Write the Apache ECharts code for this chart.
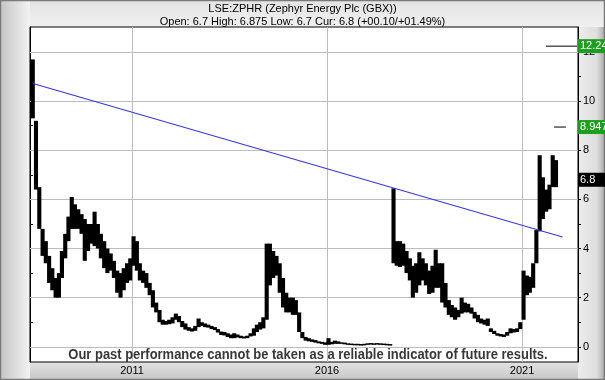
<!DOCTYPE html>
<html><head><meta charset="utf-8">
<script src="https://cdn.jsdelivr.net/npm/echarts@6/dist/echarts.min.js"></script>
<style>html,body{margin:0;padding:0;background:#d8d8d8}#c{width:605px;height:380px}</style>
</head><body><div id="c"></div><script>
// ---- data ----
const titleLine1 = 'LSE:ZPHR (Zephyr Energy Plc (GBX))';
const titleLine2 = 'Open: 6.7 High: 6.875 Low: 6.7 Cur: 6.8 (+00.10/+01.49%)';
const footerText = 'Our past performance cannot be taken as a reliable indicator of future results.';
const firstMonth = [2008, 6]; // monthly bars from June 2008
const lows = [9.3,6.4,4.8,3.7,3.4,2.6,2.3,2.0,2.0,2.8,3.6,
  4.3,4.8,4.8,4.8,4.6,3.5,3.9,4.2,4.1,4.0,
  3.6,3.2,3.0,3.1,2.8,2.2,2.0,2.3,2.6,2.7,
  3.3,3.1,2.7,2.6,2.4,2.1,1.6,1.4,1.0,0.9,
  0.9,0.92,0.95,1.1,1.0,0.8,0.7,0.65,0.62,0.65,
  0.8,0.85,0.8,0.78,0.72,0.68,0.58,0.48,0.46,0.4,
  0.35,0.35,0.38,0.35,0.34,0.35,0.42,0.45,0.6,0.7,
  0.75,1.1,2.5,2.8,2.9,2.2,1.6,1.4,1.4,1.3,
  1.3,0.6,0.35,0.25,0.22,0.2,0.17,0.14,0.12,0.08,
  0.08,0.1,0.12,0.12,0.12,0.1,0.08,0.07,0.07,0.07,
  0.06,0.07,0.08,0.09,0.09,0.09,0.08,0.07,0.06,0.06,
  3.4,3.3,3.25,3.3,3.0,2.7,2.0,2.2,2.5,2.7,
  2.5,2.15,2.2,2.4,2.4,1.8,1.6,1.3,1.2,1.1,
  1.2,1.35,1.4,1.4,1.35,1.15,1.0,0.95,0.9,0.85,
  0.6,0.52,0.45,0.42,0.4,0.45,0.55,0.58,0.6,0.72,
  1.1,2.1,2.2,2.4,3.4,4.7,5.2,5.5,5.6,6.5,6.5];
const highs = [11.7,9.2,6.5,4.8,4.3,3.7,3.2,2.8,3.0,3.9,4.6,
  5.3,6.1,5.8,5.6,5.4,5.2,5.0,5.0,5.5,5.0,
  4.6,4.3,4.0,3.8,3.5,3.1,3.0,3.2,3.4,3.6,
  4.5,4.3,3.4,3.1,3.0,2.6,2.3,1.8,1.5,1.1,
  1.05,1.1,1.2,1.35,1.25,1.05,0.95,0.8,0.75,0.85,
  1.15,1.0,0.95,0.9,0.85,0.8,0.72,0.62,0.6,0.55,
  0.5,0.55,0.5,0.45,0.42,0.45,0.55,0.75,0.9,1.0,
  1.2,4.2,4.2,3.9,3.7,3.4,2.8,2.2,2.0,2.0,
  1.9,1.4,0.6,0.4,0.35,0.3,0.27,0.22,0.2,0.18,
  0.35,0.2,0.25,0.22,0.18,0.17,0.14,0.13,0.12,0.12,
  0.11,0.12,0.14,0.15,0.14,0.15,0.14,0.13,0.12,0.11,
  6.45,4.3,4.3,4.2,3.9,3.6,3.3,3.4,3.85,3.6,
  3.4,3.1,3.3,3.95,3.4,3.4,2.6,1.9,1.7,1.6,
  1.5,2.0,1.8,1.75,1.6,1.42,1.3,1.15,1.1,1.15,
  0.75,0.65,0.55,0.52,0.5,0.6,0.75,0.72,0.75,1.0,
  3.1,2.9,2.85,3.4,4.75,7.8,6.9,6.4,6.6,7.8,7.6];
const trendLine = [['2008-06-17', 10.72], ['2022-01-15', 4.47]];
const targetValues = [12.24, 8.947];
const targetLabels = ['12.24', '8.947'];
const targetRanges = [['2021-08-13', '2022-05-30'], ['2021-10-27', '2022-02-16']];
const currentValue = 6.8;
const currentLabel = '6.8';
const yLabelValues = [0, 2, 4, 6, 8, 10, 12];
const yTickValues = [0,1,2,3,4,5,6,7,8,9,10,11,12];
const xLabelYears = [2011, 2016, 2021];
const xMin = '2008-05-20', xMax = '2022-06-09';
const yMin = -0.62, yMax = 13.02;

// ---- build ----
const ts = s => { const p = s.split('-').map(Number); return new Date(p[0], p[1] - 1, p[2]).getTime(); };
const bars = lows.map((lo, i) => {
  const y = firstMonth[0] + Math.floor((firstMonth[1] - 1 + i) / 12);
  const m = (firstMonth[1] - 1 + i) % 12;
  return [new Date(y, m, 15).getTime(), lo, highs[i]];
});
const xYearTs = xLabelYears.map(y => new Date(y, 0, 1).getTime());
const FONT = '"Liberation Sans", Arial, sans-serif';

const chart = echarts.init(document.getElementById('c'), null, {renderer: 'canvas'});
const option = {
  backgroundColor: 'transparent',
  animation: false,
  title: {
    text: titleLine1, subtext: titleLine2, left: 'center', top: -2, itemGap: 2,
    textStyle: {fontSize: 11, fontWeight: 'normal', color: '#000', fontFamily: FONT},
    subtextStyle: {fontSize: 11, color: '#000', fontFamily: FONT}
  },
  grid: {left: 30, right: 27, top: 27, bottom: 18, show: true, backgroundColor: '#fff', borderColor: '#000', borderWidth: 1},
  xAxis: {
    type: 'value', min: ts(xMin), max: ts(xMax),
    axisLine: {show: true, lineStyle: {color: '#000'}},
    axisTick: {show: false, customValues: xYearTs},
    axisLabel: {customValues: xYearTs, formatter: v => String(new Date(v).getFullYear()), color: '#000', fontSize: 11, fontFamily: FONT, margin: 3},
    splitLine: {show: true, lineStyle: {color: '#bdbdbd', width: 1}}
  },
  yAxis: [
    {type: 'value', position: 'right', min: yMin, max: yMax,
     axisLine: {show: true, lineStyle: {color: '#000'}},
     axisTick: {show: true, customValues: yTickValues, length: 3, lineStyle: {color: '#000'}},
     axisLabel: {customValues: yLabelValues, color: '#000', fontSize: 11, fontFamily: FONT, margin: 5},
     splitLine: {show: false}},
    {type: 'value', position: 'left', min: yMin, max: yMax,
     axisLine: {show: true, lineStyle: {color: '#000'}},
     axisTick: {show: true, inside: true, customValues: yTickValues, length: 3, lineStyle: {color: '#000'}},
     axisLabel: {show: false}, splitLine: {show: false}}
  ],
  series: [
    {type: 'line', data: [], z: 1, silent: true,
     markLine: {silent: true, symbol: 'none', z: 1, label: {show: false},
       lineStyle: {color: '#bdbdbd', width: 1, type: 'solid'},
       data: yLabelValues.map(v => ({yAxis: v}))}},
    {type: 'custom', z: 3, data: bars, clip: true,
     renderItem: (params, api) => {
       const t = api.value(0);
       const top = api.coord([t, api.value(2)]);
       const bot = api.coord([t, api.value(1)]);
       const w = api.size([31 * 86400000, 0])[0];
       return {type: 'rect', shape: {x: top[0] - w / 2 - 0.4, y: top[1], width: w + 0.8, height: Math.max(1.5, bot[1] - top[1])},
         style: {fill: '#000'}};
     }},
    {type: 'line', data: trendLine.map(p => [ts(p[0]), p[1]]), z: 4, symbol: 'none', lineStyle: {color: '#3a3ad0', width: 1.2}},
    ...targetValues.map((v, i) => ({type: 'line', z: 4, symbol: 'none', clip: false,
      data: [[ts(targetRanges[i][0]), v], [ts(targetRanges[i][1]), v]], lineStyle: {color: '#000', width: 1}}))
  ]
};
chart.setOption(option);

function boxAt(value, text, fill) {
  const y = chart.convertToPixel({yAxisIndex: 0}, value);
  return [
    {type: 'rect', z: 100, shape: {x: 578, y: y - 7, width: 30, height: 14}, style: {fill: fill}},
    {type: 'text', z: 101, x: 580, y: y, style: {text: text, fill: '#fff', font: '11px ' + FONT, verticalAlign: 'middle'}}
  ];
}
const graphics = [
  {type: 'rect', z: -10, shape: {x: 0, y: 0, width: 605, height: 380}, style: {fill: '#d9d9d9'}},
  {type: 'rect', z: -9, shape: {x: 1, y: 1, width: 29, height: 378},
   style: {fill: new echarts.graphic.LinearGradient(0, 0, 1, 0, [{offset: 0, color: '#c6c6c6'}, {offset: 1, color: '#f3f3f3'}])}},
  {type: 'rect', z: -9, shape: {x: 30, y: 1, width: 574, height: 26},
   style: {fill: new echarts.graphic.LinearGradient(0, 0, 0, 1, [{offset: 0, color: '#e4e4e4'}, {offset: 1, color: '#f0f0f0'}])}},
  {type: 'rect', z: -9, shape: {x: 578, y: 27, width: 27, height: 352},
   style: {fill: new echarts.graphic.LinearGradient(0, 0, 1, 0, [{offset: 0, color: '#ececec'}, {offset: 0.7, color: '#dedede'}, {offset: 1, color: '#a8a8a8'}])}},
  {type: 'rect', z: -9, shape: {x: 30, y: 362, width: 548, height: 17},
   style: {fill: new echarts.graphic.LinearGradient(0, 0, 0, 1, [{offset: 0, color: '#e2e2e2'}, {offset: 1, color: '#c8c8c8'}])}},
  {type: 'rect', z: -8, shape: {x: 0.5, y: 0.5, width: 604, height: 379}, style: {fill: 'none', stroke: '#7a7a7a', lineWidth: 1.5}},
  {type: 'text', z: 50, x: 308, y: 355, scaleX: 0.925, originX: 0, originY: 0,
   style: {text: footerText, fill: '#383838', font: 'bold 14px ' + FONT, align: 'center', verticalAlign: 'middle'}},
  ...boxAt(targetValues[0], targetLabels[0], '#1e9e1e'),
  ...boxAt(targetValues[1], targetLabels[1], '#1e9e1e'),
  ...boxAt(currentValue, currentLabel, '#000')
];
chart.setOption({graphic: graphics});
</script></body></html>
